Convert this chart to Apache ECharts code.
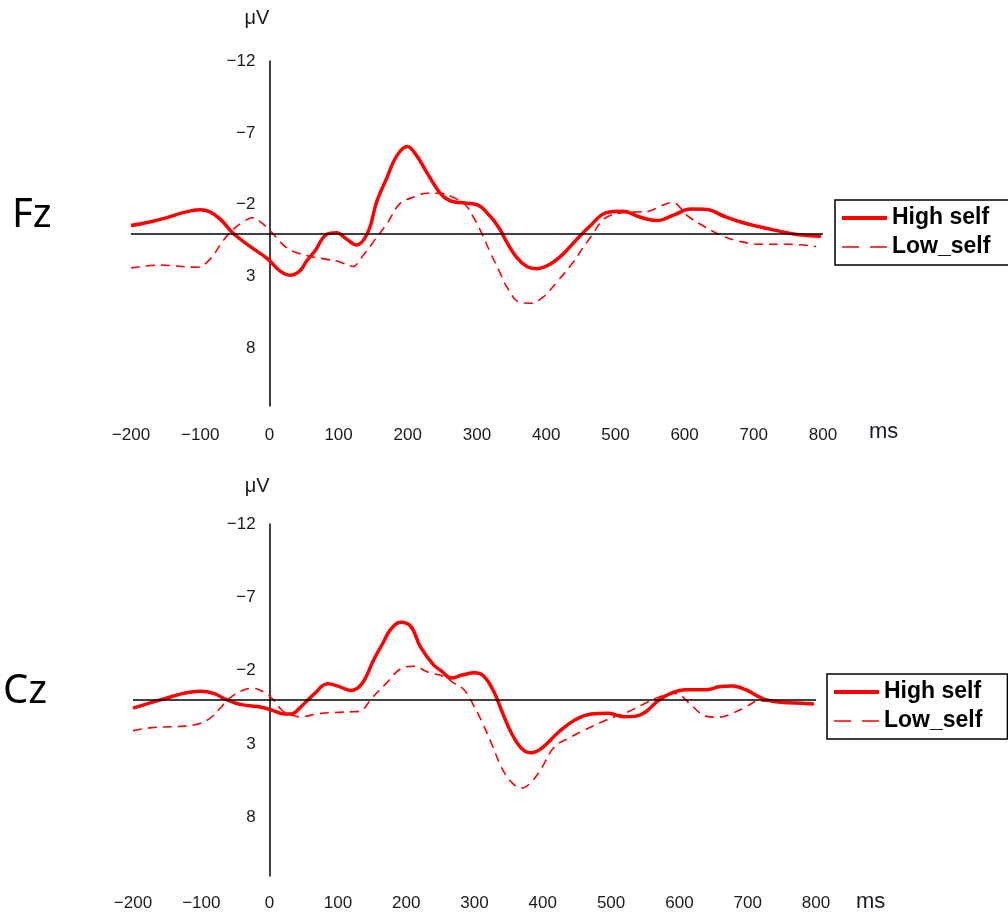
<!DOCTYPE html>
<html>
<head>
<meta charset="utf-8">
<script src="https://cdn.jsdelivr.net/npm/echarts@6/dist/echarts.min.js"></script>
<style>
html,body{margin:0;padding:0;background:#fff;}
#chart{width:1008px;height:917px;}
</style>
</head>
<body>
<div id="chart"></div>
<script>
// ---- data (time in ms, amplitude in µV; negative plotted upward) ----
const xTicks = [-200, -100, 0, 100, 200, 300, 400, 500, 600, 700, 800];
const yTicks = [-12, -7, -2, 3, 8];
const seriesNames = ['High self', 'Low_self'];
const panelNames = ['Fz', 'Cz'];

const fzHigh = [[-200,-0.55],[-173,-0.8],[-148,-1.1],[-125,-1.45],[-100,-1.65],[-86,-1.5],[-71,-1.0],[-52,0],[-28,0.9],[-3,1.75],[15,2.6],[30,2.9],[44,2.6],[54,1.9],[66,1.2],[83,0.05],[97,-0.05],[112,0.4],[126,0.8],[136,0.45],[145,-0.4],[155,-2.2],[170,-3.9],[184,-5.4],[199,-6.05],[213,-5.4],[228,-4.2],[246,-2.85],[260,-2.3],[275,-2.15],[300,-2.0],[319,-1.2],[333,-0.3],[343,0.6],[357,1.65],[372,2.3],[386,2.45],[405,2.15],[424,1.45],[444,0.42],[463,-0.5],[487,-1.45],[511,-1.55],[535,-1.15],[560,-0.9],[585,-1.3],[609,-1.7],[632,-1.67],[657,-1.2],[681,-0.8],[705,-0.5],[733,-0.2],[762,0.07],[797,0.2]];

const fzLow = [[-200,2.4],[-158,2.2],[-105,2.35],[-86,1.8],[-67,0.5],[-52,-0.3],[-38,-0.8],[-25,-1.1],[-14,-0.85],[1,-0.2],[25,1.0],[44,1.4],[60,1.6],[83,1.8],[100,1.95],[121,2.3],[131,1.8],[150,0.6],[170,-0.7],[189,-2.1],[210,-2.55],[228,-2.8],[246,-2.8],[266,-2.5],[283,-2.0],[294,-1.2],[304,-0.3],[319,1.3],[333,2.7],[343,3.7],[362,4.8],[377,4.85],[395,4.45],[415,3.4],[439,2.0],[453,1.0],[468,0],[478,-0.75],[490,-1.2],[510,-1.45],[530,-1.5],[548,-1.55],[565,-1.9],[582,-2.15],[605,-1.2],[628,-0.5],[653,0.14],[676,0.5],[710,0.75],[748,0.75],[790,0.9]];

const czHigh = [[-200,0.55],[-175,0.2],[-150,-0.14],[-126,-0.45],[-101,-0.6],[-82,-0.45],[-62,0],[-43,0.3],[-18,0.45],[1,0.65],[21,0.95],[32,0.95],[45,0.5],[65,-0.4],[85,-1.1],[100,-0.95],[119,-0.65],[135,-1.1],[153,-2.8],[165,-3.8],[177,-4.8],[192,-5.3],[207,-5.0],[221,-3.6],[240,-2.4],[251,-2.0],[266,-1.5],[282,-1.7],[300,-1.85],[314,-1.6],[329,-0.5],[339,0.65],[354,2.25],[369,3.3],[383,3.6],[398,3.3],[423,2.2],[447,1.36],[471,0.95],[496,0.9],[520,1.15],[537,1.1],[551,0.8],[570,0],[590,-0.5],[609,-0.7],[639,-0.7],[658,-0.9],[678,-0.95],[697,-0.7],[722,-0.1],[745,0.14],[770,0.2],[797,0.27]];

const czLow = [[-200,2.1],[-175,1.9],[-111,1.7],[-89,1.3],[-72,0.55],[-62,0],[-40,-0.65],[-25,-0.8],[-9,-0.55],[6,0],[18,0.7],[31,1.0],[45,1.15],[70,0.95],[95,0.85],[123,0.8],[133,0.75],[150,-0.14],[170,-1.1],[195,-2.2],[210,-2.3],[232,-1.9],[255,-1.6],[270,-1.15],[285,-0.68],[300,0.48],[312,1.6],[327,3.2],[339,4.55],[354,5.6],[369,6.0],[383,5.6],[398,4.65],[417,3.2],[442,2.5],[461,2.05],[486,1.5],[505,1.15],[525,0.8],[551,0.2],[570,-0.2],[595,-0.45],[614,0.2],[639,1.1],[658,1.17],[678,0.9],[697,0.48],[716,0.07],[751,0.14],[797,0.27]];

// ---- chart ----
const FONT = 'Liberation Sans';
const minus = v => String(v).replace('-', '\u2212');
const xMin = xTicks[0], xMax = xTicks[xTicks.length - 1];
const grids = [
  {left: 131, top: 61, width: 692, height: 345},
  {left: 133, top: 524, width: 683, height: 352}
];
const nameGapsY = [33, 28];
const nameGapsX = [46, 40];
const labelMarginX = [21, 19];
const titleTops = [196, 672];
const titleLefts = [12, 3];
const legendPos = [{left: 835, top: 200, padding: [5, 19, 5, 5]}, {left: 827, top: 674, padding: [5, 25, 5, 5]}];
const solidStyle = {color: '#ff0000', width: 3.5, type: 'solid'};
const dashStyle = {color: '#ff0000', width: 1.6, type: [9, 6]};

function xAxisFor(i) {
  return {
    type: 'value', gridIndex: i, min: xMin, max: xMax, interval: 100,
    axisLine: {show: false, onZero: false},
    axisTick: {show: false},
    splitLine: {show: false},
    axisLabel: {customValues: xTicks, margin: labelMarginX[i], fontSize: 17, color: '#1a1a1a', fontFamily: FONT, formatter: minus}
  };
}
function yAxisFor(i) {
  // place the y axis at x = 0 ms
  const off = -grids[i].width * (0 - xMin) / (xMax - xMin);
  return {
    type: 'value', gridIndex: i, inverse: true, min: -12, max: 12,
    position: 'left', offset: off,
    axisLine: {show: true, onZero: false, lineStyle: {color: '#000', width: 1.5}},
    axisTick: {show: false},
    splitLine: {show: false},
    axisLabel: {customValues: yTicks, margin: 14, fontSize: 17, color: '#1a1a1a', fontFamily: FONT, formatter: minus},
    name: '\u03bcV', nameLocation: 'start', nameGap: nameGapsY[i],
    nameTextStyle: {fontSize: 20, color: '#1a1a1a', fontFamily: FONT, align: 'right'}
  };
}
function lineSeries(name, data, i, dashed) {
  const s = {
    name: name, type: 'line', xAxisIndex: i, yAxisIndex: i, data: data,
    smooth: 0.4, symbol: 'none',
    lineStyle: dashed ? dashStyle : solidStyle,
    itemStyle: {color: '#ff0000'},
    z: dashed ? 3 : 4
  };
  if (!dashed) {
    s.markLine = {
      silent: true, symbol: ['none', 'none'], label: {show: false},
      lineStyle: {color: '#000', width: 1.5, type: 'solid'},
      data: [{yAxis: 0}]
    };
  }
  return s;
}
function legendFor(i) {
  return Object.assign({
    orient: 'vertical', itemWidth: 45, itemHeight: 14, itemGap: 3,
    data: [
      {name: seriesNames[0], lineStyle: {color: '#ff0000', width: 4, type: 'solid'}},
      {name: seriesNames[1], lineStyle: {color: '#ff0000', width: 1.6, type: [17, 11]}}
    ],
    borderColor: '#000', borderWidth: 1.5,
    backgroundColor: '#fff',
    itemStyle: {opacity: 0},
    textStyle: {fontSize: 23, fontWeight: 'bold', color: '#000', fontFamily: FONT, lineHeight: 26}
  }, legendPos[i]);
}
function msLabel(i) {
  const g = grids[i];
  return {
    type: 'text', x: g.left + g.width + nameGapsX[i], y: g.top + g.height + 26,
    style: {text: 'ms', fontSize: 22, fontFamily: FONT, fill: '#1a1a2a', verticalAlign: 'middle', align: 'left'}
  };
}

const option = {
  animation: false,
  backgroundColor: '#fff',
  title: panelNames.map((t, i) => ({
    text: t, left: titleLefts[i], top: titleTops[i], padding: 0,
    textStyle: {fontSize: 40, fontWeight: 'normal', color: '#000', fontFamily: 'Noto Sans'}
  })),
  legend: [legendFor(0), legendFor(1)],
  grid: grids,
  xAxis: [xAxisFor(0), xAxisFor(1)],
  yAxis: [yAxisFor(0), yAxisFor(1)],
  graphic: [msLabel(0), msLabel(1)],
  series: [
    lineSeries(seriesNames[0], fzHigh, 0, false),
    lineSeries(seriesNames[1], fzLow, 0, true),
    lineSeries(seriesNames[0], czHigh, 1, false),
    lineSeries(seriesNames[1], czLow, 1, true)
  ]
};
const chart = echarts.init(document.getElementById('chart'), null, {renderer: 'canvas'});
chart.setOption(option);
</script>
</body>
</html>
